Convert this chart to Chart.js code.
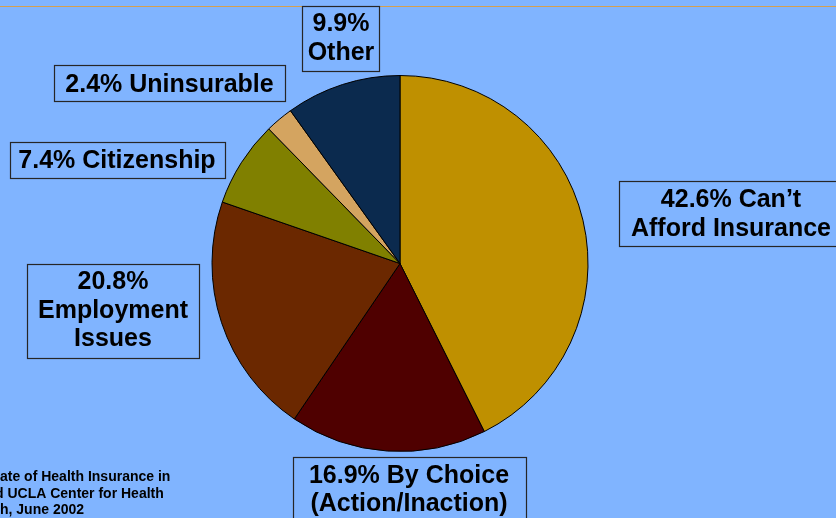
<!DOCTYPE html>
<html>
<head>
<meta charset="utf-8">
<script src="https://cdn.jsdelivr.net/npm/chart.js@4/dist/chart.umd.min.js"></script>
<style>
  html, body { margin: 0; padding: 0; background: #80B4FF; overflow: hidden; }
  canvas { display: block; }
</style>
</head>
<body>
<canvas id="c" width="836" height="518"></canvas>
<script>
// ---- data ----
const categories = ["Can’t Afford Insurance", "By Choice (Action/Inaction)", "Employment Issues", "Citizenship", "Uninsurable", "Other"];
const values = [42.6, 16.9, 20.8, 7.4, 2.4, 9.9];
const sliceColors = ["#BF9000", "#4F0000", "#6B2800", "#808000", "#D4A460", "#0B2A4E"];
const sourceLines = ["State of Health Insurance in", "and UCLA Center for Health", "Research, June 2002"];

// label text lines built from the data
const labelLines = [
  [values[0].toFixed(1) + "% Can’t", "Afford Insurance"],
  [values[1].toFixed(1) + "% By Choice", "(Action/Inaction)"],
  [values[2].toFixed(1) + "%", "Employment", "Issues"],
  [values[3].toFixed(1) + "% Citizenship"],
  [values[4].toFixed(1) + "% Uninsurable"],
  [values[5].toFixed(1) + "%", "Other"]
];

// label box layout (drawing positions only)
const labelLayout = [
  { box: [619, 181, 840, 246], x: 731, base: [206.5, 236] },
  { box: [293, 457, 526, 530], x: 409, base: [483, 511] },
  { box: [27, 264, 199, 358], x: 113, base: [289, 318, 346] },
  { box: [10, 142, 225, 178], x: 117, base: [167.5] },
  { box: [54, 65, 285, 101], x: 169.5, base: [91.5] },
  { box: [302, 6, 379, 71], x: 341, base: [30.5, 59.5] }
];

const overlay = {
  id: 'overlay',
  beforeDraw(chart) {
    const ctx = chart.ctx;
    ctx.save();
    ctx.fillStyle = '#80B4FF';
    ctx.fillRect(0, 0, chart.width, chart.height);
    ctx.strokeStyle = '#D4A050';
    ctx.lineWidth = 1;
    ctx.beginPath();
    ctx.moveTo(0, 6.5); ctx.lineTo(chart.width, 6.5);
    ctx.stroke();
    ctx.restore();
  },
  afterDraw(chart) {
    const ctx = chart.ctx;
    ctx.save();
    labelLayout.forEach((L, i) => {
      const [x1, y1, x2, y2] = L.box;
      ctx.fillStyle = '#80B4FF';
      ctx.fillRect(x1, y1, x2 - x1, y2 - y1);
      ctx.strokeStyle = '#262626';
      ctx.lineWidth = 1.2;
      ctx.strokeRect(x1 + 0.5, y1 + 0.5, x2 - x1, y2 - y1);
      ctx.fillStyle = '#000';
      ctx.font = 'bold 25px "Liberation Sans", Arial, sans-serif';
      ctx.textAlign = 'center';
      ctx.textBaseline = 'alphabetic';
      labelLines[i].forEach((t, j) => ctx.fillText(t, L.x, L.base[j]));
    });
    // source note (cut off at the left edge)
    ctx.font = 'bold 14px "Liberation Sans", Arial, sans-serif';
    ctx.textAlign = 'left';
    ctx.fillStyle = '#000';
    const offs = [ctx.measureText('St').width, ctx.measureText('an').width + 5, ctx.measureText('Researc').width];
    const bases = [480.5, 497.5, 514];
    sourceLines.forEach((t, j) => ctx.fillText(t, -offs[j], bases[j]));
    ctx.restore();
  }
};

new Chart(document.getElementById('c'), {
  type: 'pie',
  data: {
    labels: categories,
    datasets: [{
      data: values,
      backgroundColor: sliceColors,
      borderColor: '#000',
      borderWidth: 1
    }]
  },
  options: {
    responsive: false,
    animation: false,
    events: [],
    layout: { padding: { left: 211.5, right: 247.5, top: 75, bottom: 66 } },
    plugins: {
      legend: { display: false },
      tooltip: { enabled: false },
      title: { display: false }
    }
  },
  plugins: [overlay]
});
</script>
</body>
</html>
